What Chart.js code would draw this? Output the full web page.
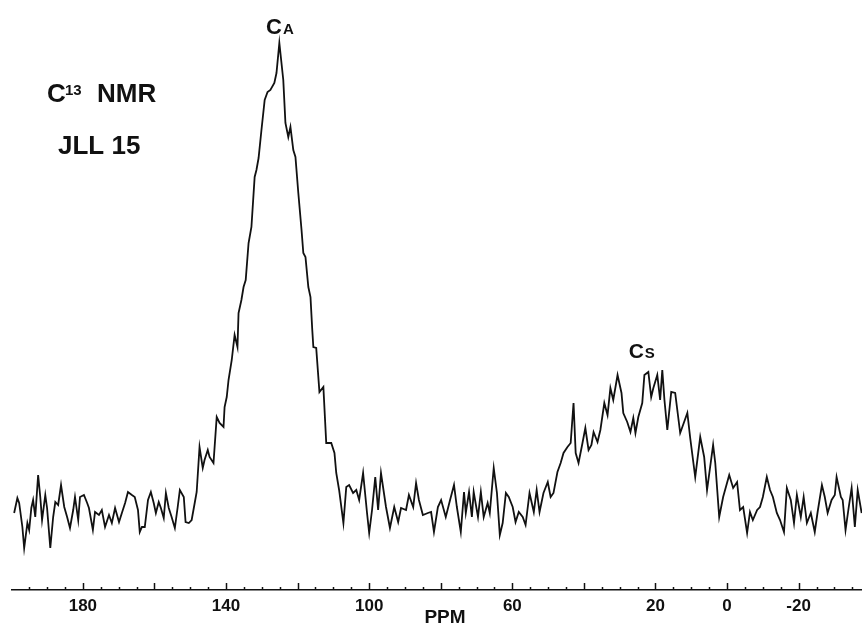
<!DOCTYPE html>
<html>
<head>
<meta charset="utf-8">
<script src="https://cdn.jsdelivr.net/npm/chart.js@4.4.0/dist/chart.umd.min.js"></script>
<style>
  html, body { margin: 0; padding: 0; background: #fff; }
  #wrap { width: 862px; height: 624px; }
</style>
</head>
<body>
<div id="wrap"><canvas id="nmr" width="862" height="624"></canvas></div>
<script>
// chemical shift (ppm) and signal height (a.u.)
const ppm = [
  199.2, 198.3, 197.8, 196.9, 196.4, 195.5, 195.0, 194.4, 193.9, 193.3,
  192.5, 191.9, 191.4, 190.5, 190.0, 189.1, 188.3, 187.7, 186.9, 186.1,
  185.2, 184.4, 183.6, 182.7, 182.2, 181.3, 180.8, 179.7, 178.8, 178.3,
  177.2, 176.6, 175.5, 174.7, 173.8, 172.7, 171.9, 171.0, 169.9, 169.1,
  168.2, 167.4, 166.3, 165.5, 164.6, 164.1, 163.5, 162.7, 161.8, 161.0,
  160.2, 159.6, 158.8, 158.2, 157.4, 156.8, 156.0, 155.2, 154.3, 153.5,
  152.9, 151.8, 151.3, 150.4, 149.6, 148.7, 148.2, 147.4, 146.5, 146.0,
  145.1, 144.6, 143.5, 142.6, 141.8, 140.7, 140.4, 139.8, 139.3, 138.4,
  137.6, 136.8, 136.5, 135.7, 135.1, 134.5, 133.7, 132.9, 132.0, 131.5,
  130.9, 130.1, 129.2, 128.4, 127.6, 126.5, 125.9, 125.1, 124.0, 123.4,
  122.6, 122.0, 121.2, 120.6, 119.8, 118.9, 118.4, 117.8, 117.0, 116.4,
  115.9, 115.6, 114.8, 113.9, 112.8, 112.0, 110.6, 109.7, 109.2, 108.4,
  107.2, 106.4, 105.6, 104.5, 103.6, 102.8, 101.7, 100.6, 100.0, 99.2,
  98.3, 97.5, 96.7, 95.3, 94.2, 93.0, 91.9, 91.1, 89.7, 88.9,
  87.7, 86.9, 86.1, 85.0, 83.6, 82.7, 81.9, 80.8, 79.9, 78.6,
  77.4, 76.3, 75.5, 74.4, 73.5, 73.0, 72.1, 71.3, 70.8, 69.6,
  68.8, 68.0, 66.9, 66.3, 65.2, 64.3, 63.5, 62.7, 61.8, 61.0,
  59.9, 59.1, 58.2, 57.1, 56.3, 55.2, 54.0, 53.2, 52.4, 51.3,
  50.1, 49.3, 48.5, 47.4, 46.5, 45.7, 44.6, 43.7, 42.9, 42.3,
  41.5, 40.4, 39.6, 38.7, 37.9, 37.3, 36.2, 35.4, 34.3, 33.4,
  32.6, 31.8, 30.6, 29.5, 29.0, 27.9, 27.0, 26.2, 25.6, 24.8,
  23.7, 23.1, 22.0, 21.2, 20.6, 19.5, 18.7, 18.1, 17.5, 16.7,
  15.6, 14.5, 13.1, 12.3, 11.1, 10.3, 8.9, 7.5, 6.4, 5.6,
  3.9, 3.3, 2.2, 1.1, -0.6, -1.7, -2.8, -3.6, -4.5, -5.6,
  -6.4, -7.2, -8.4, -9.2, -10.0, -11.1, -12.0, -12.8, -13.9, -14.8,
  -15.9, -16.7, -17.8, -18.7, -19.5, -20.6, -21.4, -22.3, -23.4, -24.5,
  -25.3, -26.5, -27.3, -28.1, -29.2, -30.1, -30.6, -31.8, -32.3, -33.1,
  -34.0, -34.8, -35.7, -36.5, -37.6
];
const intensity = [
  77, 92, 87, 63, 42, 67, 60, 82, 90, 73,
  115, 93, 70, 95, 82, 42, 73, 88, 85, 105,
  83, 73, 62, 80, 93, 70, 93, 95, 87, 82,
  60, 78, 75, 80, 63, 75, 67, 82, 68, 77,
  87, 98, 95, 93, 80, 58, 63, 63, 90, 98,
  87, 77, 88, 82, 72, 97, 82, 73, 62, 83,
  100, 93, 68, 67, 70, 88, 98, 143, 122, 130,
  140, 133, 127, 173, 167, 163, 183, 193, 210, 230,
  255, 243, 277, 290, 303, 310, 347, 363, 413, 420,
  432, 460, 490, 498, 500, 507, 517, 547, 510, 467,
  453, 463, 440, 433, 397, 360, 337, 333, 303, 293,
  260, 243, 242, 198, 203, 147, 147, 137, 117, 100,
  67, 103, 105, 97, 100, 90, 117, 77, 57, 80,
  113, 80, 117, 83, 62, 83, 68, 82, 80, 95,
  83, 107, 90, 75, 77, 78, 58, 83, 90, 73,
  90, 105, 83, 58, 98, 77, 98, 73, 98, 73,
  98, 73, 87, 77, 122, 97, 55, 67, 97, 93,
  83, 68, 78, 73, 65, 97, 78, 100, 78, 97,
  108, 93, 97, 118, 127, 137, 143, 147, 187, 137,
  127, 147, 162, 140, 145, 158, 148, 160, 187, 175,
  202, 190, 215, 197, 177, 168, 158, 172, 157, 173,
  187, 215, 218, 193, 202, 215, 190, 220, 190, 160,
  198, 197, 157, 165, 177, 152, 113, 153, 133, 100,
  145, 127, 73, 93, 115, 102, 108, 80, 83, 57,
  78, 70, 80, 83, 93, 113, 100, 93, 77, 70,
  58, 102, 90, 67, 95, 73, 93, 67, 77, 58,
  78, 105, 93, 77, 90, 95, 113, 93, 90, 60,
  83, 102, 63, 100, 77
];
// axis: tick marks every 5 ppm, numbers only on some of them
const tickMarks = [
  195, 190, 185, 180, 175, 170, 165, 160, 155, 150, 145, 140, 135, 130, 125,
  120, 115, 110, 105, 100, 95, 90, 85, 80, 75, 70, 65, 60, 55, 50, 45, 40,
  35, 30, 25, 20, 15, 10, 5, 0, -5, -10, -15, -20, -25, -30, -35
];
const tickLabels = [180, 140, 100, 60, 20, 0, -20];

const FONT = '"Liberation Sans", Arial, Helvetica, sans-serif';

// upward tick marks on the axis line + text labels
const spectrumMarks = {
  id: 'spectrumMarks',
  afterDraw(chart) {
    const { ctx, scales: { x, y } } = chart;
    const base = y.getPixelForValue(0);
    ctx.save();
    ctx.strokeStyle = '#111';
    ctx.lineWidth = 1.5;
    tickMarks.forEach(v => {
      const px = Math.round(x.getPixelForValue(v)) + 0.5;
      const len = v % 20 === 0 ? 7 : 3;
      ctx.beginPath();
      ctx.moveTo(px, base);
      ctx.lineTo(px, base - len);
      ctx.stroke();
    });

    ctx.fillStyle = '#111';
    ctx.textBaseline = 'alphabetic';
    ctx.textAlign = 'left';

    // sample description, top left
    ctx.font = 'bold 26px ' + FONT;
    ctx.fillText('C', 47, 102);
    ctx.fillText('NMR', 97, 102);
    ctx.fillText('JLL 15', 58, 154);
    ctx.font = 'bold 15px ' + FONT;
    ctx.fillText('13', 65, 95);

    // axis title
    ctx.textAlign = 'center';
    ctx.font = 'bold 19px ' + FONT;
    ctx.fillText('PPM', 445, 623);
    ctx.textAlign = 'left';

    // peak names
    const ca = { x: x.getPixelForValue(128.8), y: y.getPixelForValue(556) };
    ctx.font = 'bold 22px ' + FONT;
    ctx.fillText('C', ca.x, ca.y);
    ctx.font = 'bold 15px ' + FONT;
    ctx.fillText('A', ca.x + 17, ca.y);

    const cs = { x: x.getPixelForValue(27.5), y: y.getPixelForValue(232) };
    ctx.font = 'bold 21px ' + FONT;
    ctx.fillText('C', cs.x, cs.y);
    ctx.font = 'bold 15px ' + FONT;
    ctx.fillText('S', cs.x + 16, cs.y);
    ctx.restore();
  }
};

const ctx = document.getElementById('nmr').getContext('2d');
new Chart(ctx, {
  type: 'line',
  data: {
    datasets: [{
      label: 'C13 NMR JLL 15',
      data: ppm.map((p, i) => ({ x: p, y: intensity[i] })),
      borderColor: '#111',
      borderWidth: 1.8,
      pointRadius: 0,
      tension: 0,
      fill: false
    }]
  },
  options: {
    responsive: false,
    animation: false,
    layout: { padding: { left: 12, right: 0, top: 10, bottom: 0 } },
    plugins: {
      legend: { display: false },
      tooltip: { enabled: false }
    },
    scales: {
      x: {
        type: 'linear',
        reverse: true,
        min: -37.7,
        max: 199.8,
        afterBuildTicks: scale => {
          scale.ticks = tickMarks.map(v => ({ value: v }));
        },
        afterFit: scale => { scale.height = 34; },
        grid: { display: false, drawTicks: false },
        border: { display: true, color: '#111', width: 1.5 },
        ticks: {
          autoSkip: false,
          maxRotation: 0,
          padding: 6,
          color: '#111',
          font: { family: FONT, size: 17, weight: 'bold' },
          callback: v => tickLabels.includes(v) ? String(v) : ''
        },
        title: { display: false }
      },
      y: {
        display: false,
        min: 0,
        max: 580
      }
    }
  },
  plugins: [spectrumMarks]
});
</script>
</body>
</html>
